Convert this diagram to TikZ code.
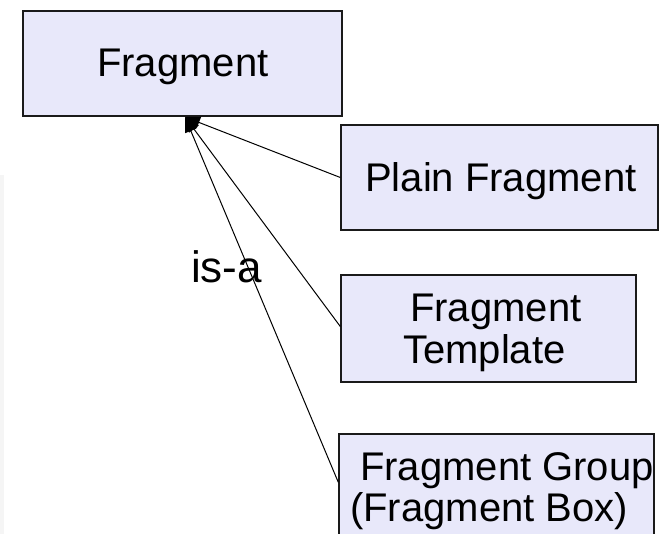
\documentclass[tikz,border=0pt]{standalone}
\usepackage{fontspec}
\setmainfont{Liberation Sans}
\usetikzlibrary{arrows.meta}
\definecolor{boxfill}{HTML}{E8E8FA}
\definecolor{boxline}{HTML}{1A1A1A}
\tikzset{
  classbox/.style={draw=boxline, line width=1.4pt, fill=boxfill, inner sep=0pt},
  txt/.style={anchor=base west, inner sep=0pt, font=\fontsize{40pt}{41pt}\selectfont},
  isa/.style={-{Triangle[length=15pt,width=12pt]}, line width=1pt, black},
}
\begin{document}
\begin{tikzpicture}[x=1pt,y=-1pt]
\useasboundingbox (0,0) rectangle (661,534);
\fill[black!4] (0,175) rectangle (4,534);
% boxes (corner to corner)
\node[classbox, minimum width=319pt, minimum height=105pt] (frag) at (182.5,63.5) {};
\node[classbox, minimum width=317pt, minimum height=105pt] (plain) at (499.5,177.5) {};
\node[classbox, minimum width=295pt, minimum height=107pt] (tmpl) at (488.5,328.5) {};
\node[classbox, minimum width=315pt, minimum height=106pt] (group) at (496.5,487) {};
% texts
\node[txt] (fragT) at (97,77) {Fragment};
\node[txt] (plainT) at (365,192) {Plain Fragment};
\node[txt] (tmplT1) at (410,322) {Fragment};
\node[txt] (tmplT2) at (403,363) {Template};
\node[txt] (groupT1) at (360,480) {Fragment Group};
\node[txt] (groupT2) at (350,521) {(Fragment Box)};
\node[txt, font=\fontsize{44pt}{44pt}\selectfont] (isaT) at (191,283) {is-a};
% connectors
\coordinate (tip) at (185,117);
\draw[isa] (plain.west) -- (tip);
\draw[isa] ([yshift=2pt]tmpl.west) -- (tip);
\draw[isa] ([yshift=-49pt]group.north west) -- (tip);
\end{tikzpicture}
\end{document}
